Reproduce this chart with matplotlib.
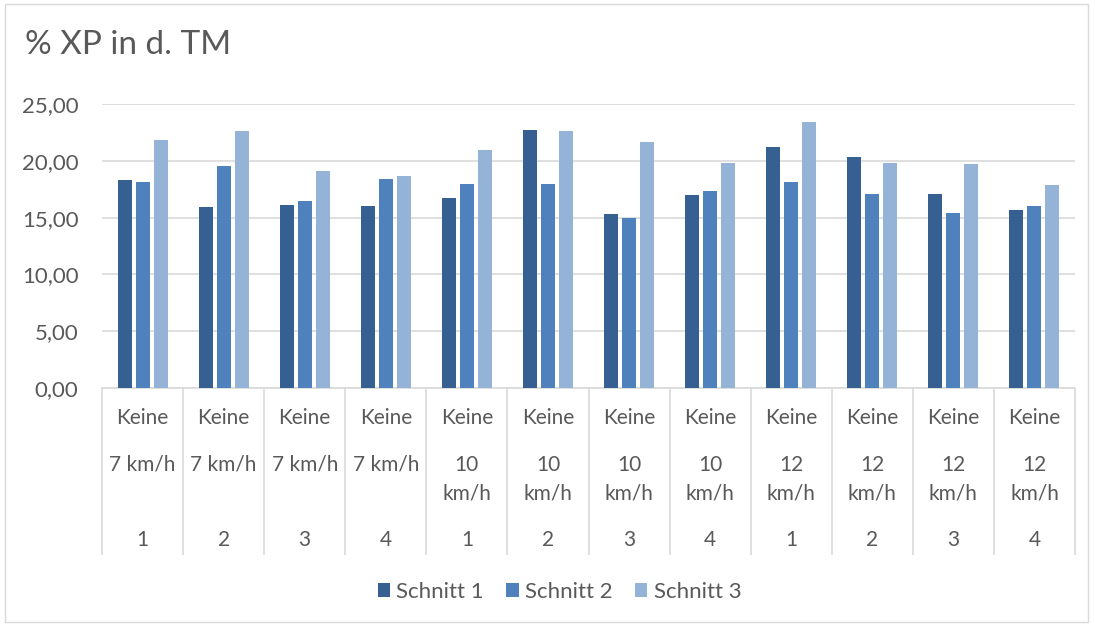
import matplotlib.pyplot as plt
from matplotlib.patches import Rectangle
import matplotlib.transforms as mtransforms
import numpy as np

plt.rcParams['font.family'] = ['Lato', 'DejaVu Sans']

# data
variante = ['Keine'] * 12
speed = ['7 km/h', '7 km/h', '7 km/h', '7 km/h',
         '10\nkm/h', '10\nkm/h', '10\nkm/h', '10\nkm/h',
         '12\nkm/h', '12\nkm/h', '12\nkm/h', '12\nkm/h']
wdh = ['1', '2', '3', '4', '1', '2', '3', '4', '1', '2', '3', '4']

schnitt1 = [18.30, 15.95, 16.08, 16.05, 16.75, 22.70, 15.33, 16.96, 21.18, 20.30, 17.10, 15.70]
schnitt2 = [18.15, 19.55, 16.46, 18.38, 17.97, 18.00, 14.98, 17.34, 18.15, 17.08, 15.42, 16.05]
schnitt3 = [21.80, 22.60, 19.10, 18.70, 20.94, 22.60, 21.67, 19.84, 23.45, 19.78, 19.70, 17.86]

series = ['Schnitt 1', 'Schnitt 2', 'Schnitt 3']
colors = ['#376092', '#4F81BD', '#95B3D7']
yticks = [0, 5, 10, 15, 20, 25]

txt = '#595959'
fig = plt.figure(figsize=(10.95, 6.27), dpi=100)
ax = fig.add_axes([102 / 1095, 239 / 627, 973 / 1095, 284 / 627])

# light frame around the whole chart
fig.patches.append(Rectangle((5 / 1095, 5 / 627), 1083 / 1095, 618 / 627,
                             transform=fig.transFigure, fill=False,
                             edgecolor='#d9d9d9', linewidth=1))

x = np.arange(len(wdh))
step = 0.222
width = 0.172
for i, (vals, name, c) in enumerate(zip([schnitt1, schnitt2, schnitt3], series, colors)):
    ax.bar(x + (i - 1) * step, vals, width, color=c, label=name, zorder=3)

ax.set_xlim(-0.5, len(wdh) - 0.5)
ax.set_ylim(0, 25)
ax.set_yticks(yticks)
ax.yaxis.set_major_formatter(plt.FuncFormatter(lambda v, p: ('%.2f' % v).replace('.', ',')))
ax.tick_params(axis='y', length=0, pad=17, labelsize=16, labelcolor=txt)
ax.set_xticks([])
ax.grid(axis='y', color='#d9d9d9', linewidth=1.2, zorder=0)
for s in ['top', 'right', 'left']:
    ax.spines[s].set_visible(False)
ax.spines['bottom'].set_color('#d9d9d9')
ax.spines['bottom'].set_linewidth(1.2)

# multi-level category axis
trans = mtransforms.blended_transform_factory(ax.transData, ax.transAxes)
ax.vlines(np.arange(len(wdh) + 1) - 0.5, -0.588, 0, transform=trans,
          colors='#d9d9d9', linewidth=1.2, clip_on=False)
for i in range(len(wdh)):
    ax.text(i, -0.106, variante[i], transform=trans, ha='center', va='center',
            fontsize=15, color=txt)
    for k, line in enumerate(speed[i].split('\n')):
        ax.text(i, -0.271 - k * 0.099, line, transform=trans, ha='center', va='center',
                fontsize=15, color=txt)
    ax.text(i, -0.535, wdh[i], transform=trans, ha='center', va='center',
            fontsize=15, color=txt)

fig.text(25 / 1095, 1 - 45 / 627, '% XP in d. TM', fontsize=24, color=txt,
         ha='left', va='center')

fig.legend(loc='center', bbox_to_anchor=(0.511, 35 / 627), ncol=3, frameon=False,
           fontsize=16, labelcolor=txt, handlelength=0.55, handleheight=0.55,
           handletextpad=0.3, columnspacing=1.0)

fig.savefig('out.png', dpi=100)
